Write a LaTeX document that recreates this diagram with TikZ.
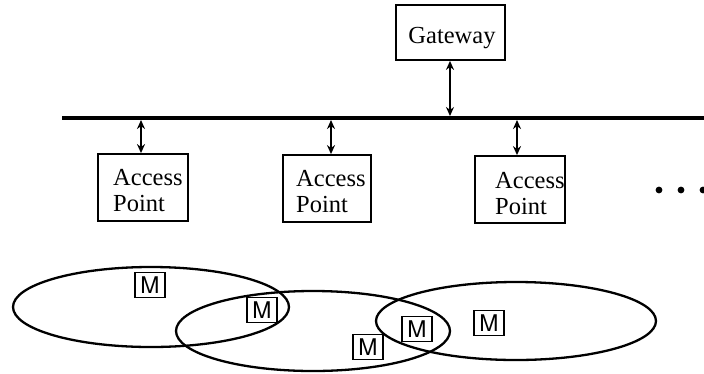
\documentclass[tikz,border=0pt]{standalone}
\usepackage{fontspec}
\setmainfont{Liberation Serif}
\newfontfamily\mfont{TeX Gyre Heros}
\usetikzlibrary{arrows.meta}
\begin{document}
\begin{tikzpicture}[x=1pt,y=-1pt,
  boxstyle/.style={draw,line width=1.8pt,inner sep=0pt,minimum width=#1},
  lbl/.style={anchor=base west,inner sep=0pt,font=\fontsize{24.5}{26}\selectfont,align=left},
  link/.style={line width=1.8pt,{Stealth[length=9pt,width=8pt]}-{Stealth[length=9pt,width=8pt]}},
  cell/.style={draw,line width=2.3pt},
  mobile/.style={draw,line width=1.6pt,inner sep=0pt,minimum width=30pt,minimum height=25pt,
                 font=\mfont\fontsize{23}{23}\selectfont},
  bus/.style={line width=4.5pt}]
\useasboundingbox (0,0) rectangle (704,373);

% backbone
\coordinate (busL) at (62,118);
\coordinate (busR) at (706,118);
\draw[bus] (busL) -- (busR);

% gateway
\node[boxstyle=109pt,minimum height=55pt] (gw) at (450.5,32.5) {};
\node[inner sep=0pt,font=\fontsize{24.5}{26}\selectfont,anchor=base] (gwt) at (452,43) {Gateway};
\coordinate (gwb) at (450,116);
\draw[link] (gwb |- gw.south) -- (gwb);

% access points (label anchor sits on the baseline of the last line)
\node[boxstyle=90pt,minimum height=67pt] (ap1) at (143,187.5) {};
\node[lbl] (ap1t) at (113,211) {Access\\Point};
\node[boxstyle=88pt,minimum height=67pt] (ap2) at (327,188.5) {};
\node[lbl] (ap2t) at (296,212) {Access\\Point};
\node[boxstyle=90pt,minimum height=67pt] (ap3) at (520,189.5) {};
\node[lbl] (ap3t) at (495,214) {Access\\Point};

\coordinate (b1) at (141,120);
\coordinate (b2) at (331,120);
\coordinate (b3) at (517,120);
\draw[link] (b1) -- (b1 |- ap1.north);
\draw[link] (b2) -- (b2 |- ap2.north);
\draw[link] (b3) -- (b3 |- ap3.north);

% more access points
\fill (659,190) circle (3.4pt) (681,190) circle (3.4pt) (703,190) circle (3.4pt);

% radio cells
\draw[cell] (151,307) ellipse (138 and 40);
\draw[cell] (313,331) ellipse (137 and 40);
\draw[cell] (516,321) ellipse (140 and 39);

% mobile hosts
\node[mobile] (m1) at (150,285) {M};
\node[mobile] (m2) at (262,310) {M};
\node[mobile] (m3) at (368,347) {M};
\node[mobile] (m4) at (417,329) {M};
\node[mobile] (m5) at (489,323) {M};
\end{tikzpicture}
\end{document}
